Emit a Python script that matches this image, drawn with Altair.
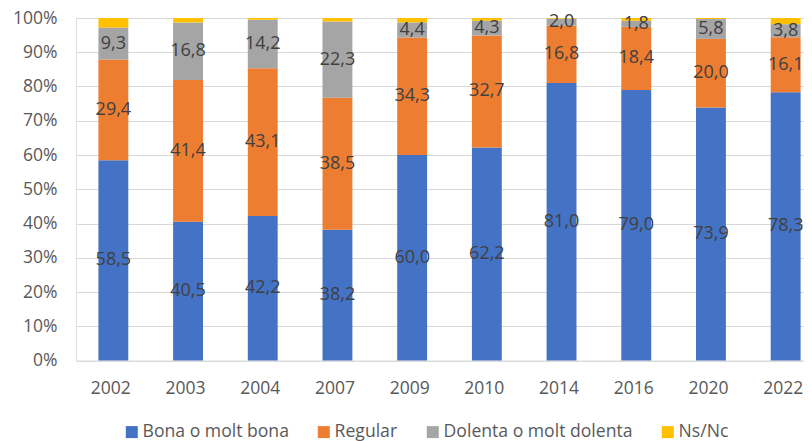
import altair as alt
import pandas as pd

years = ["2002", "2003", "2004", "2007", "2009", "2010", "2014", "2016", "2020", "2022"]
categories = ["Bona o molt bona", "Regular", "Dolenta o molt dolenta", "Ns/Nc"]
bona = [58.5, 40.5, 42.2, 38.2, 60.0, 62.2, 81.0, 79.0, 73.9, 78.3]
regular = [29.4, 41.4, 43.1, 38.5, 34.3, 32.7, 16.8, 18.4, 20.0, 16.1]
dolenta = [9.3, 16.8, 14.2, 22.3, 4.4, 4.3, 2.0, 1.8, 5.8, 3.8]
nsnc = [2.8, 1.3, 0.5, 1.0, 1.3, 0.8, 0.2, 0.8, 0.3, 1.8]
colors = ["#4472C4", "#ED7D31", "#A5A5A5", "#FFC000"]
yticks = [0, 0.1, 0.2, 0.3, 0.4, 0.5, 0.6, 0.7, 0.8, 0.9, 1.0]

rows = []
for i, y in enumerate(years):
    for k, (cat, series) in enumerate(zip(categories, [bona, regular, dolenta, nsnc])):
        v = series[i]
        rows.append({
            "year": y,
            "cat": cat,
            "order": k,
            "value": v,
            "label": (f"{v:.1f}".replace(".", ",") if k < 3 else ""),
        })
df = pd.DataFrame(rows)

FONT = "Open Sans"

base = alt.Chart(df).transform_stack(
    stack="value",
    groupby=["year"],
    as_=["y0", "y1"],
    sort=[alt.SortField("order", order="ascending")],
    offset="normalize",
).transform_calculate(mid="(datum.y0 + datum.y1) / 2")

xscale = alt.Scale(range=[0, 747], paddingInner=0.6, paddingOuter=0.3)
yscale = alt.Scale(domain=[0, 1])
xaxis = alt.Axis(labelAngle=0, domain=False, ticks=False, labelPadding=19,
                 labelFontSize=17.5, labelColor="#595959", labelFont=FONT,
                 tickOffset=-3)
yaxis = alt.Axis(format=".0%", values=yticks, labelOverlap=False, domain=False,
                 ticks=False, labelPadding=19, labelFontSize=17.5,
                 labelColor="#595959", labelFont=FONT,
                 gridColor="#D9D9D9", gridWidth=1)

bars = base.mark_bar().encode(
    x=alt.X("year:N", sort=years, title=None, scale=xscale, axis=xaxis),
    y=alt.Y("y0:Q", scale=yscale, title=None, axis=yaxis),
    y2="y1:Q",
    color=alt.Color("cat:N", sort=categories,
                    scale=alt.Scale(domain=categories, range=colors),
                    legend=alt.Legend(title=None, orient="none", direction="horizontal",
                                      legendX=47, legendY=405,
                                      symbolType="square", symbolSize=144,
                                      symbolStrokeWidth=0, symbolOpacity=1,
                                      labelFontSize=17.6, labelColor="#595959",
                                      labelFont=FONT, labelOffset=2, labelLimit=400,
                                      columnPadding=26)),
    order=alt.Order("order:Q"),
)

texts = base.mark_text(fontSize=18, color="#404040", font=FONT).encode(
    x=alt.X("year:N", sort=years, title=None, scale=xscale, axis=xaxis),
    y=alt.Y("mid:Q", scale=yscale, title=None, axis=yaxis),
    text="label:N",
)

chart = alt.layer(bars, texts).properties(
    width=728,
    height=342.5,
    padding={"left": 68, "top": 10, "right": 0, "bottom": 81},
    autosize=alt.AutoSizeParams(type="none"),
).configure_view(stroke=None).configure(background="white")

chart.save("out.html", embed_options={"renderer": "svg", "actions": False})
